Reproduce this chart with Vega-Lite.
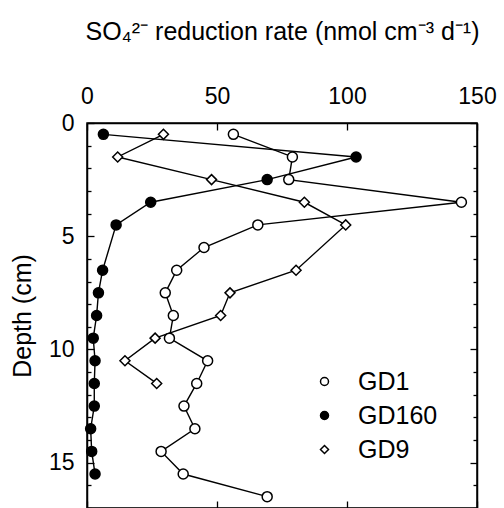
{
  "$schema": "https://vega.github.io/schema/vega-lite/v6.json",
  "autosize": {"type": "none"},
  "padding": {"left": 87, "top": 123, "right": 27, "bottom": 0},
  "width": 390,
  "height": 385,
  "background": "white",
  "config": {
    "view": {"stroke": "black", "strokeWidth": 1.5},
    "font": "Liberation Sans",
    "axis": {
      "labelFont": "Liberation Sans",
      "titleFont": "Liberation Sans",
      "labelFontSize": 23,
      "titleFontSize": 25,
      "titleFontWeight": "normal",
      "labelColor": "black",
      "titleColor": "black",
      "domainColor": "black",
      "tickColor": "black",
      "domainWidth": 1.5,
      "tickWidth": 1.3,
      "labelFlush": false,
      "grid": false
    },
    "legend": {
      "labelFont": "Liberation Sans",
      "labelFontSize": 25,
      "labelColor": "black",
      "symbolSize": 64,
      "symbolStrokeWidth": 1.5,
      "labelOffset": 21,
      "rowPadding": 8
    }
  },
  "data": {
    "values": [
      {"site": "GD1", "depth": 0.5, "rate": 56.3},
      {"site": "GD1", "depth": 1.5, "rate": 79},
      {"site": "GD1", "depth": 2.5, "rate": 77.6},
      {"site": "GD1", "depth": 3.5, "rate": 144},
      {"site": "GD1", "depth": 4.5, "rate": 65.7},
      {"site": "GD1", "depth": 5.5, "rate": 45},
      {"site": "GD1", "depth": 6.5, "rate": 34.5},
      {"site": "GD1", "depth": 7.5, "rate": 30.1},
      {"site": "GD1", "depth": 8.5, "rate": 33.2},
      {"site": "GD1", "depth": 9.5, "rate": 31.7},
      {"site": "GD1", "depth": 10.5, "rate": 46.4},
      {"site": "GD1", "depth": 11.5, "rate": 42.2},
      {"site": "GD1", "depth": 12.5, "rate": 37.3},
      {"site": "GD1", "depth": 13.5, "rate": 41.5},
      {"site": "GD1", "depth": 14.5, "rate": 28.5},
      {"site": "GD1", "depth": 15.5, "rate": 37},
      {"site": "GD1", "depth": 16.5, "rate": 69.3},
      {"site": "GD160", "depth": 0.5, "rate": 6.3},
      {"site": "GD160", "depth": 1.5, "rate": 103.5},
      {"site": "GD160", "depth": 2.5, "rate": 69.3},
      {"site": "GD160", "depth": 3.5, "rate": 24.5},
      {"site": "GD160", "depth": 4.5, "rate": 11.2},
      {"site": "GD160", "depth": 6.5, "rate": 6},
      {"site": "GD160", "depth": 7.5, "rate": 4.4},
      {"site": "GD160", "depth": 8.5, "rate": 3.7},
      {"site": "GD160", "depth": 9.5, "rate": 2.4},
      {"site": "GD160", "depth": 10.5, "rate": 3.1},
      {"site": "GD160", "depth": 11.5, "rate": 2.8},
      {"site": "GD160", "depth": 12.5, "rate": 2.8},
      {"site": "GD160", "depth": 13.5, "rate": 1.4},
      {"site": "GD160", "depth": 14.5, "rate": 1.8},
      {"site": "GD160", "depth": 15.5, "rate": 3.1},
      {"site": "GD9", "depth": 0.5, "rate": 29.4},
      {"site": "GD9", "depth": 1.5, "rate": 11.8},
      {"site": "GD9", "depth": 2.5, "rate": 47.9},
      {"site": "GD9", "depth": 3.5, "rate": 83.6},
      {"site": "GD9", "depth": 4.5, "rate": 99.5},
      {"site": "GD9", "depth": 6.5, "rate": 80.4},
      {"site": "GD9", "depth": 7.5, "rate": 55},
      {"site": "GD9", "depth": 8.5, "rate": 51.4},
      {"site": "GD9", "depth": 9.5, "rate": 26.2},
      {"site": "GD9", "depth": 10.5, "rate": 14.6},
      {"site": "GD9", "depth": 11.5, "rate": 26.8}
    ]
  },
  "layer": [
    {
      "mark": {"type": "line", "color": "black", "strokeWidth": 1.4},
      "encoding": {
        "x": {
          "field": "rate", "type": "quantitative",
          "scale": {"domain": [0, 150], "nice": false, "zero": false},
          "axis": {
            "orient": "top",
            "values": [0, 50, 100, 150],
            "tickSize": -7,
            "labelPadding": 22,
            "title": "SO₄²⁻ reduction rate (nmol cm⁻³ d⁻¹)",
            "titlePadding": 41
          }
        },
        "y": {
          "field": "depth", "type": "quantitative",
          "scale": {"domain": [0, 17], "nice": false, "zero": false, "reverse": true},
          "axis": {
            "orient": "left",
            "values": [0, 1, 2, 3, 4, 5, 6, 7, 8, 9, 10, 11, 12, 13, 14, 15, 16, 17],
            "labelExpr": "datum.value % 5 === 0 ? datum.label : ''",
            "tickSize": {"condition": {"test": "datum.value % 5 === 0", "value": -7}, "value": -4},
            "labelPadding": 20,
            "title": "Depth (cm)",
            "titlePadding": 13
          }
        },
        "detail": {"field": "site"},
        "order": {"field": "depth", "type": "quantitative"}
      }
    },
    {
      "mark": {"type": "point", "filled": false, "strokeWidth": 1.5, "size": 100, "opacity": 1},
      "encoding": {
        "x": {
          "field": "rate", "type": "quantitative",
          "axis": {
            "orient": "bottom",
            "values": [0, 50, 100, 150],
            "tickSize": -7,
            "labels": false,
            "title": null
          }
        },
        "y": {
          "field": "depth", "type": "quantitative",
          "axis": {
            "orient": "right",
            "values": [0, 1, 2, 3, 4, 5, 6, 7, 8, 9, 10, 11, 12, 13, 14, 15, 16, 17],
            "tickSize": {"condition": {"test": "datum.value % 5 === 0", "value": -7}, "value": -4},
            "labels": false,
            "title": null
          }
        },
        "shape": {
          "field": "site", "type": "nominal",
          "scale": {"domain": ["GD1", "GD160", "GD9"], "range": ["circle", "circle", "diamond"]},
          "legend": {"title": null, "orient": "none", "legendX": 225, "legendY": 246}
        },
        "fill": {
          "field": "site", "type": "nominal",
          "scale": {"domain": ["GD1", "GD160", "GD9"], "range": ["white", "black", "white"]},
          "legend": {"title": null, "orient": "none", "legendX": 225, "legendY": 246}
        },
        "stroke": {
          "field": "site", "type": "nominal",
          "scale": {"domain": ["GD1", "GD160", "GD9"], "range": ["black", "black", "black"]},
          "legend": {"title": null, "orient": "none", "legendX": 225, "legendY": 246}
        }
      }
    }
  ],
  "resolve": {"axis": {"x": "independent", "y": "independent"}}
}
